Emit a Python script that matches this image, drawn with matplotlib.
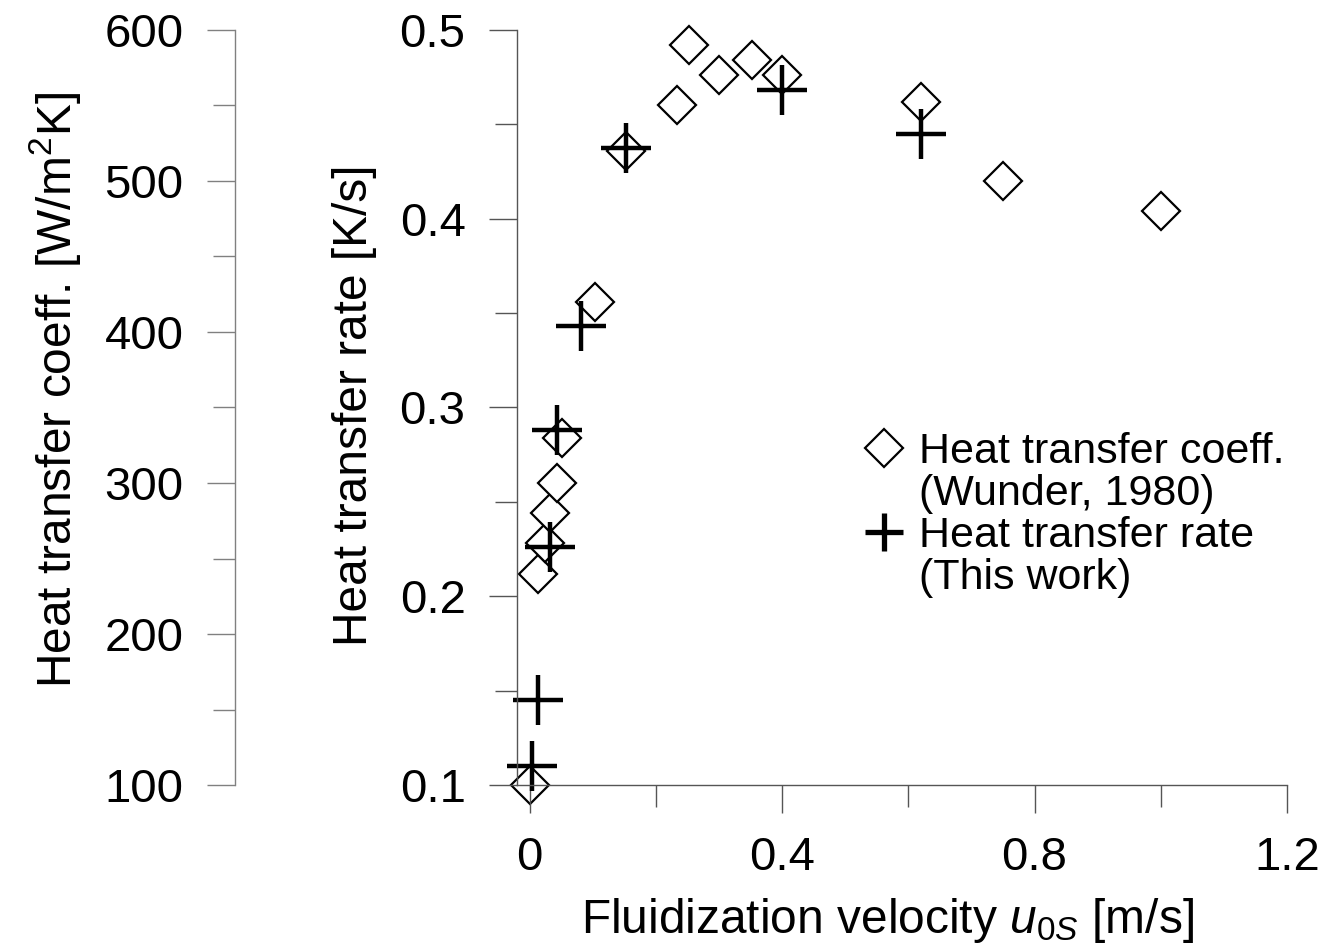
import matplotlib
matplotlib.use("Agg")
import matplotlib.pyplot as plt
from matplotlib.lines import Line2D
from matplotlib.ticker import MultipleLocator

plt.rcParams['font.family'] = ['Liberation Sans', 'DejaVu Sans']
plt.rcParams['mathtext.fontset'] = 'custom'
plt.rcParams['mathtext.rm'] = 'Liberation Sans'
plt.rcParams['mathtext.it'] = 'Liberation Sans:italic'

# Heat transfer coefficient (Wunder, 1980)
u_coeff = [0.0, 0.013, 0.024, 0.033, 0.043, 0.052, 0.103, 0.152, 0.233, 0.252,
           0.30, 0.352, 0.40, 0.62, 0.75, 1.0]
h_coeff = [100, 240, 260, 280, 300, 330, 420, 520, 550, 590,
           570, 580, 570, 552, 500, 480]

# Heat transfer rate (This work)
u_rate = [0.003, 0.013, 0.033, 0.043, 0.082, 0.152, 0.40, 0.62]
r_rate = [0.11, 0.145, 0.226, 0.288, 0.343, 0.4375, 0.468, 0.445]

xticks_major = [0, 0.4, 0.8, 1.2]
xtick_labels = ['0', '0.4', '0.8', '1.2']

W, H = 1323, 947
fig = plt.figure(figsize=(W / 100, H / 100), dpi=100)
ax = fig.add_axes([517 / W, (H - 785) / H, (1287 - 517) / W, (785 - 30) / H])
axh = ax.twinx()

main_col = '#555555'
left_col = '#808080'
tick_fs = 34
label_fs = 34.5

# Main axes (rate)
ax.set_xlim(-0.02, 1.2)
ax.set_ylim(0.1, 0.5)
for s in ['top', 'right']:
    ax.spines[s].set_visible(False)
for s in ['left', 'bottom']:
    ax.spines[s].set_color(main_col)
    ax.spines[s].set_linewidth(1.0)
ax.set_xticks(xticks_major)
ax.set_xticklabels(xtick_labels)
ax.xaxis.set_minor_locator(MultipleLocator(0.2))
ax.yaxis.set_major_locator(MultipleLocator(0.1))
ax.yaxis.set_minor_locator(MultipleLocator(0.05))
ax.tick_params(axis='both', which='major', direction='out', length=20, width=1.0,
               color=main_col, labelsize=tick_fs, pad=17)
ax.tick_params(axis='both', which='minor', direction='out', length=16, width=1.0,
               color=main_col)

# Twin axes (coefficient), axis shown far left
axh.set_ylim(100, 600)
for s in ['top', 'right', 'bottom']:
    axh.spines[s].set_visible(False)
axh.spines['left'].set_visible(True)
axh.spines['left'].set_position(('outward', 282 * 72 / 100))
axh.spines['left'].set_color(left_col)
axh.spines['left'].set_linewidth(1.0)
axh.yaxis.tick_left()
axh.yaxis.set_major_locator(MultipleLocator(100))
axh.yaxis.set_minor_locator(MultipleLocator(50))
axh.tick_params(axis='y', which='major', direction='out', length=20, width=1.0,
                color=left_col, labelsize=tick_fs, pad=17, left=True, right=False,
                labelleft=True, labelright=False)
axh.tick_params(axis='y', which='minor', direction='out', length=16, width=1.0,
                color=left_col, left=True, right=False)

# Data
dia, = axh.plot(u_coeff, h_coeff, linestyle='none', marker='D', ms=19,
                mfc='white', mec='black', mew=1.6, clip_on=False)
crs, = ax.plot(u_rate, r_rate, linestyle='none', marker='+', ms=36,
               mec='black', mew=3.2, clip_on=False)

ax.set_zorder(axh.get_zorder() + 1)
ax.patch.set_visible(False)

# Labels
fig.text(355 / W, 1 - 405 / H, 'Heat transfer rate [K/s]', rotation=90,
         ha='center', va='center', fontsize=label_fs)
fig.text(55 / W, 1 - 390 / H, 'Heat transfer coeff. [W/m$^2$K]', rotation=90,
         ha='center', va='center', fontsize=label_fs)
fig.text(887 / W, 1 - 933 / H, r'Fluidization velocity $\mathit{u_{0S}}$ [m/s]',
         ha='center', va='baseline', fontsize=label_fs)

# Legend
leg_fs = 31
h_dia = Line2D([], [], linestyle='none', marker='D', ms=19, mfc='white',
               mec='black', mew=1.6)
h_crs = Line2D([], [], linestyle='none', marker='+', ms=28, mec='black', mew=3.8)
h_none = Line2D([], [], linestyle='none')
ax.legend([h_dia, h_none, h_crs, h_none],
          ['Heat transfer coeff.', '(Wunder, 1980)', 'Heat transfer rate', '(This work)'],
          loc='upper left', bbox_to_anchor=(867 / W, 1 - 432 / H),
          bbox_transform=fig.transFigure, frameon=False, fontsize=leg_fs,
          handlelength=0.8, handletextpad=0.4, labelspacing=0.05,
          borderpad=0, borderaxespad=0)

fig.savefig('out.png', dpi=100)
